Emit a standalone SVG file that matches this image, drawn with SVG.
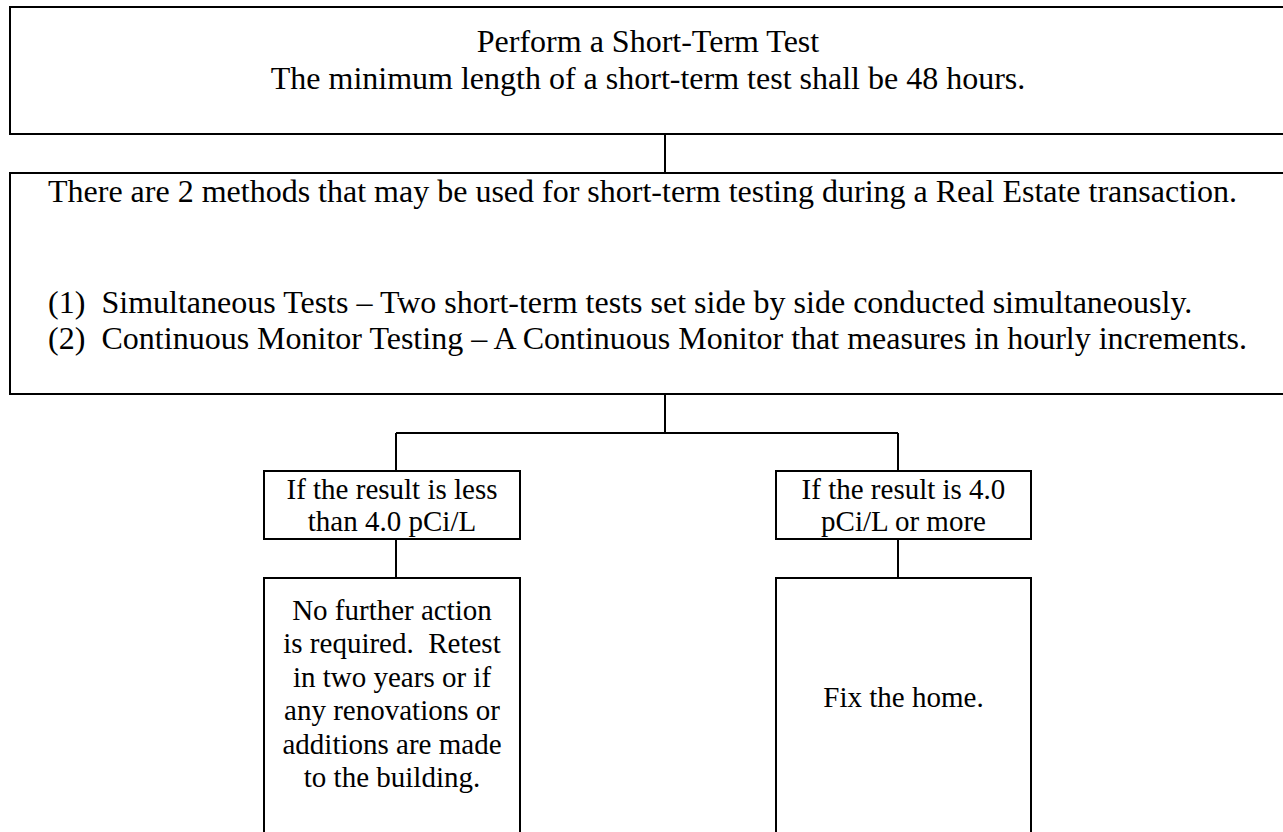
<svg xmlns="http://www.w3.org/2000/svg" width="1283" height="832" viewBox="0 0 1283 832">
<style>
.box{fill:#fff;stroke:#000;stroke-width:2}
.con{fill:none;stroke:#000;stroke-width:2}
.t{font-family:"Liberation Serif","Times New Roman",serif;fill:#000}
.big{font-size:32px}
.sm{font-size:29px}
.c{text-anchor:middle}
</style>
<rect width="1283" height="832" fill="#fff"/>
<g id="connectors">
<path class="con" d="M665,135V173M665,394V433M396,433H898M396,433V471M898,433V471M396,539V578M898,539V578"/>
</g>
<g id="node-perform">
<rect class="box" x="10" y="7" width="1290" height="127"/>
<text class="t big c" x="648" y="52">Perform a Short-Term Test</text>
<text class="t big c" x="648" y="89">The minimum length of a short-term test shall be 48 hours.</text>
</g>
<g id="node-methods">
<rect class="box" x="10" y="173" width="1290" height="221"/>
<text class="t big" x="48" y="202">There are 2 methods that may be used for short-term testing during a Real Estate transaction.</text>
<text class="t big" y="313"><tspan x="48">(1)</tspan><tspan x="101.5">Simultaneous Tests – Two short-term tests set side by side conducted simultaneously.</tspan></text>
<text class="t big" y="349"><tspan x="48">(2)</tspan><tspan x="101.5">Continuous Monitor Testing – A Continuous Monitor that measures in hourly increments.</tspan></text>
</g>
<g id="node-less">
<rect class="box" x="264" y="471" width="256" height="68"/>
<text class="t sm c" x="392" y="499">If the result is less</text>
<text class="t sm c" x="392" y="531">than 4.0 pCi/L</text>
</g>
<g id="node-more">
<rect class="box" x="776" y="471" width="255" height="68"/>
<text class="t sm c" x="903.5" y="499">If the result is 4.0</text>
<text class="t sm c" x="903.5" y="531">pCi/L or more</text>
</g>
<g id="node-noaction">
<rect class="box" x="264" y="578" width="256" height="270"/>
<text class="t sm c" x="392" y="620">No further action</text>
<text class="t sm c" x="392" y="653">is required.&#160; Retest</text>
<text class="t sm c" x="392" y="687">in two years or if</text>
<text class="t sm c" x="392" y="720">any renovations or</text>
<text class="t sm c" x="392" y="754">additions are made</text>
<text class="t sm c" x="392" y="787">to the building.</text>
</g>
<g id="node-fix">
<rect class="box" x="776" y="578" width="255" height="270"/>
<text class="t sm c" x="903.5" y="707">Fix the home.</text>
</g>
</svg>
